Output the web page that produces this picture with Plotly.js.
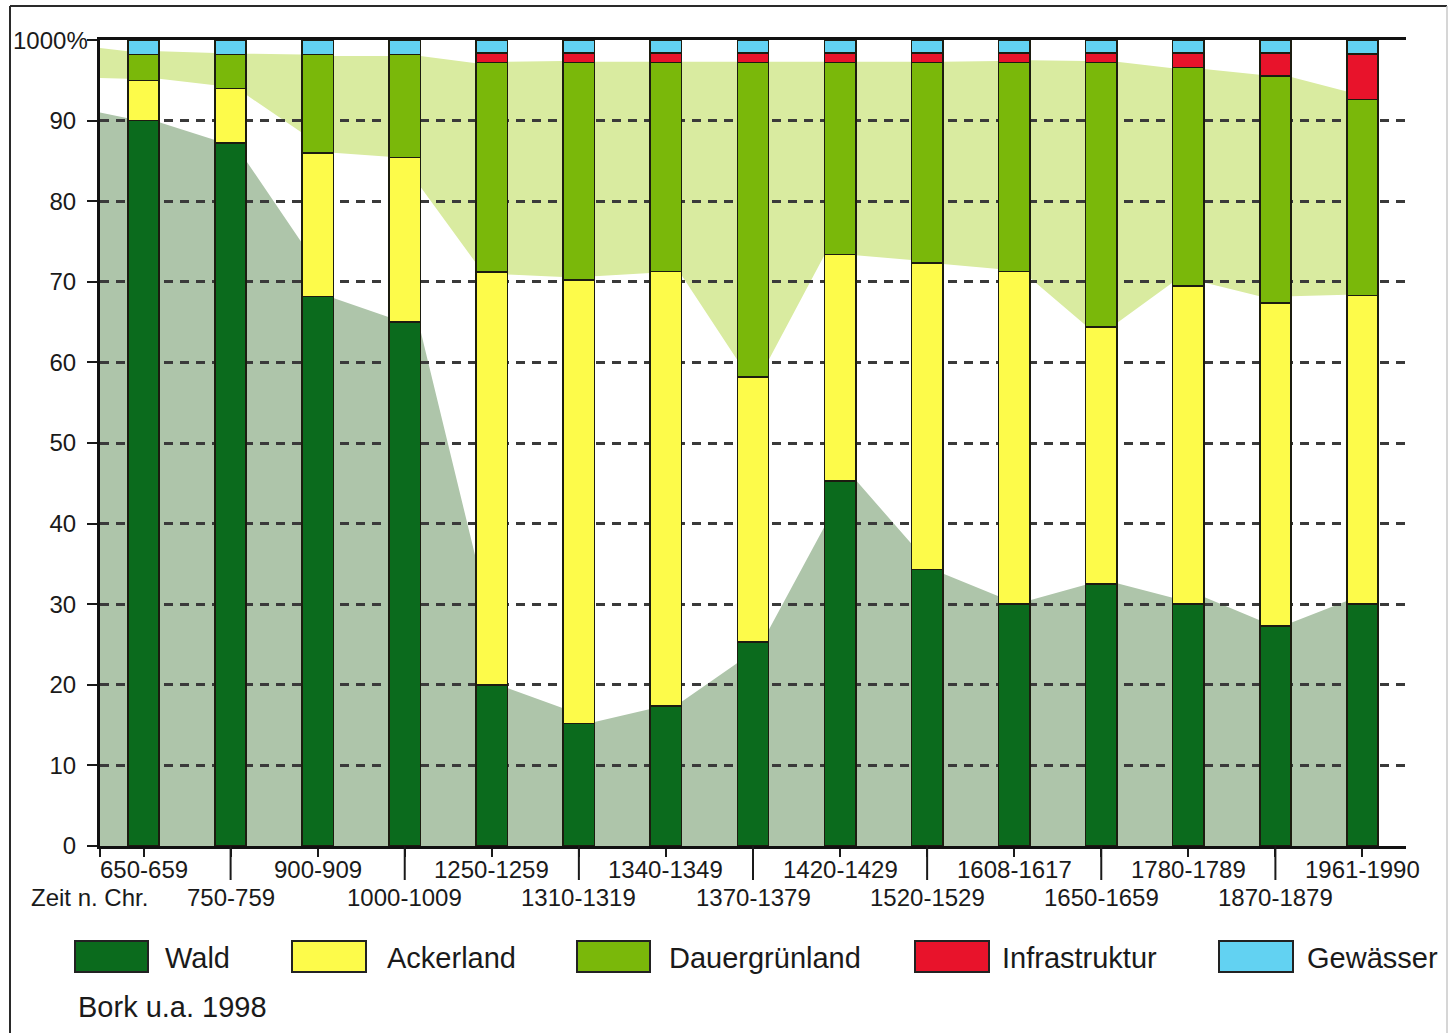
<!DOCTYPE html>
<html>
<head>
<meta charset="utf-8">
<script src="https://cdn.plot.ly/plotly-3.0.1.min.js"></script>
<style>
  html, body { margin: 0; padding: 0; background: #ffffff; }
  #chart { width: 1450px; height: 1033px; }
</style>
</head>
<body>
<div id="chart"></div>
<script>
// ---------- data ----------
const categories = ['650-659','750-759','900-909','1000-1009','1250-1259','1310-1319','1340-1349','1370-1379','1420-1429','1520-1529','1608-1617','1650-1659','1780-1789','1870-1879','1961-1990'];
const seriesNames = ['Wald','Ackerland','Dauergrünland','Infrastruktur','Gewässer'];
const wald           = [90.0, 87.2, 68.2, 65.0, 20.0, 15.2, 17.4, 25.3, 45.3, 34.3, 30.0, 32.5, 30.0, 27.3, 30.0];
const ackerland      = [5.0, 6.8, 17.8, 20.4, 51.2, 55.0, 53.9, 32.9, 28.1, 38.0, 41.3, 31.9, 39.5, 40.1, 38.3];
const dauergruenland = [3.2, 4.2, 12.2, 12.8, 26.0, 27.0, 25.9, 39.0, 23.8, 24.9, 25.9, 32.8, 27.1, 28.1, 24.3];
const infrastruktur  = [0, 0, 0, 0, 1.2, 1.2, 1.2, 1.2, 1.2, 1.2, 1.2, 1.2, 1.8, 2.9, 5.7];
const gewaesser      = [1.8, 1.8, 1.8, 1.8, 1.6, 1.6, 1.6, 1.6, 1.6, 1.6, 1.6, 1.6, 1.6, 1.6, 1.7];

// background bands (values at left / right edge of each bar)
const waldBandStart    = 91;
const waldBandLeft     = [90.3, 87.6, 74.8, 65.6, 35.5, 17.1, 17.0, 22.7, 39.6, 37.5, 31.0, 32.4, 30.8, 28.0, 30.4];
const waldBandRight    = [89.8, 85.0, 68.0, 64.0, 19.6, 15.4, 17.9, 26.8, 45.4, 33.8, 30.5, 32.6, 30.9, 27.7, 30.0];
const gruenTopStart    = 99.0;
const gruenBottomStart = 95.3;
const gruenTopLeft     = [98.6, 98.4, 98.2, 98.0, 97.1, 97.4, 97.3, 97.3, 97.3, 97.3, 97.4, 97.4, 96.5, 95.7, 93.6];
const gruenTopRight    = [98.6, 98.3, 98.0, 98.0, 97.3, 97.3, 97.3, 97.3, 97.3, 97.3, 97.5, 97.3, 96.4, 95.4, 92.6];
const gruenBottomLeft  = [95.2, 94.4, 88.5, 85.5, 72.3, 70.6, 71.1, 60.3, 73.3, 72.7, 71.6, 64.6, 69.9, 68.2, 68.4];
const gruenBottomRight = [95.2, 93.2, 86.0, 81.8, 70.9, 70.7, 70.8, 60.3, 73.3, 72.2, 70.5, 64.9, 69.9, 68.2, 68.3];

const yTickVals  = [0,10,20,30,40,50,60,70,80,90,100];
const yTickText  = ['0','10','20','30','40','50','60','70','80','90',''];
const yTopLabel  = '1000%';
const xAxisNote  = 'Zeit n. Chr.';
const sourceNote = 'Bork u.a. 1998';

// ---------- styles ----------
const colors = ['#0b6b1d', '#fdfb4a', '#7ab80a', '#e8132b', '#62d2f2'];
const bandDark  = '#aec5aa';
const bandLight = '#d9eba0';
const FONT = 'Liberation Sans, Arial, Helvetica, sans-serif';
const TXT = '#1a1a1a';
const BARW = 0.36;
const HW = BARW / 2;

// plot area in pixels
const L = 100, R = 1406, T = 40, B = 846;
const W = 1450, H = 1033;
const px = v => (v - L) / (R - L);          // pixel x -> paper
const py = v => (B - v) / (B - T);          // pixel y -> paper

const xs = categories.map((c, i) => i);
const values = [wald, ackerland, dauergruenland, infrastruktur, gewaesser];

const traces = values.map((vals, k) => ({
  type: 'bar',
  name: seriesNames[k],
  x: xs,
  y: vals,
  width: BARW,
  customdata: categories,
  textposition: 'none',
  marker: { color: colors[k], line: { color: '#1c1c10', width: 1.6 } },
  hovertemplate: '%{customdata}: %{y}%<extra>' + seriesNames[k] + '</extra>',
  showlegend: false
}));

// ---------- background band shapes (data coordinates) ----------
function waldPath() {
  let d = 'M -0.5,0 L -0.5,' + waldBandStart;
  xs.forEach(i => {
    d += ' L ' + (i - HW) + ',' + waldBandLeft[i];
    d += ' L ' + (i === xs.length - 1 ? i : i + HW) + ',' + waldBandRight[i];
  });
  d += ' L ' + (xs.length - 1) + ',0 Z';
  return d;
}
function gruenPath() {
  let d = 'M -0.5,' + gruenBottomStart + ' L -0.5,' + gruenTopStart;
  xs.forEach(i => {
    d += ' L ' + (i - HW) + ',' + gruenTopLeft[i];
    d += ' L ' + (i === xs.length - 1 ? i : i + HW) + ',' + gruenTopRight[i];
  });
  for (let j = xs.length - 1; j >= 0; j--) {
    d += ' L ' + (j === xs.length - 1 ? j : j + HW) + ',' + gruenBottomRight[j];
    d += ' L ' + (j - HW) + ',' + gruenBottomLeft[j];
  }
  d += ' Z';
  return d;
}

const shapes = [
  { type: 'path', xref: 'x', yref: 'y', layer: 'below', path: waldPath(), fillcolor: bandDark, line: { width: 0 } },
  { type: 'path', xref: 'x', yref: 'y', layer: 'below', path: gruenPath(), fillcolor: bandLight, line: { width: 0 } }
];

// long tick marks at odd categories
xs.filter(i => i % 2 === 1).forEach(i => {
  shapes.push({ type: 'line', xref: 'x', yref: 'paper', x0: i, x1: i, y0: 0, y1: py(880),
                line: { color: '#1a1a1a', width: 2 }, layer: 'above' });
});

// outer frame of the figure
shapes.push({ type: 'line', xref: 'paper', yref: 'paper', x0: px(10), x1: px(10), y0: py(6), y1: py(1040), line: { color: '#2a2a2a', width: 2 } });
shapes.push({ type: 'line', xref: 'paper', yref: 'paper', x0: px(10), x1: px(1447), y0: py(6), y1: py(6), line: { color: '#2a2a2a', width: 2 } });
shapes.push({ type: 'line', xref: 'paper', yref: 'paper', x0: px(1447), x1: px(1447), y0: py(6), y1: py(1040), line: { color: '#c8c8c8', width: 1.5 } });

// ---------- annotations: category labels in two rows ----------
const annotations = [];
categories.forEach((c, i) => {
  annotations.push({
    xref: 'x', yref: 'paper', x: i, y: py(i % 2 === 0 ? 869 : 897),
    text: c, showarrow: false, xanchor: 'center', yanchor: 'middle',
    font: { family: FONT, size: 24, color: TXT }
  });
});
annotations.push({
  xref: 'paper', yref: 'paper', x: px(29), y: py(897), text: xAxisNote, showarrow: false,
  xanchor: 'left', yanchor: 'middle', font: { family: FONT, size: 24, color: TXT }
});
// top y label (sits closer to the axis than the others)
annotations.push({
  xref: 'paper', yref: 'y', x: px(90), y: 100, text: yTopLabel, showarrow: false,
  xanchor: 'right', yanchor: 'middle', font: { family: FONT, size: 24, color: TXT }
});

// ---------- custom legend ----------
const legendBoxes = [[75, 148], [292, 366], [577, 650], [915, 989], [1219, 1293]];
const legendTextX = [163, 385, 667, 1000, 1305];
seriesNames.forEach((n, k) => {
  shapes.push({
    type: 'rect', xref: 'paper', yref: 'paper',
    x0: px(legendBoxes[k][0]), x1: px(legendBoxes[k][1]), y0: py(972), y1: py(941),
    fillcolor: colors[k], line: { color: '#222222', width: 2 }
  });
  annotations.push({
    xref: 'paper', yref: 'paper', x: px(legendTextX[k]), y: py(958), text: n, showarrow: false,
    xanchor: 'left', yanchor: 'middle', font: { family: FONT, size: 29, color: TXT }
  });
});
annotations.push({
  xref: 'paper', yref: 'paper', x: px(76), y: py(1007), text: sourceNote, showarrow: false,
  xanchor: 'left', yanchor: 'middle', font: { family: FONT, size: 29, color: TXT }
});

const layout = {
  width: W, height: H,
  margin: { l: L, r: W - R, t: T, b: H - B, pad: 0 },
  paper_bgcolor: '#ffffff',
  plot_bgcolor: 'rgba(0,0,0,0)',
  barmode: 'stack',
  showlegend: false,
  font: { family: FONT, size: 24, color: TXT },
  xaxis: {
    type: 'linear', range: [-0.5, 14.5], fixedrange: true,
    showgrid: false, zeroline: false,
    showline: true, linecolor: '#111111', linewidth: 3, mirror: true,
    ticks: 'outside', ticklen: 8, tickwidth: 2, tickcolor: '#1a1a1a',
    tickvals: [-0.5].concat(xs), showticklabels: false
  },
  yaxis: {
    range: [0, 100], fixedrange: true,
    showline: true, linecolor: '#111111', linewidth: 3,
    zeroline: false,
    showgrid: true, gridcolor: '#3a3a3a', gridwidth: 3, griddash: '9px,7px',
    ticks: 'outside', ticklen: 10, tickwidth: 2, tickcolor: '#1a1a1a',
    tickvals: yTickVals, ticktext: yTickText, ticklabelstandoff: 6,
    tickfont: { family: FONT, size: 24, color: TXT }
  },
  shapes: shapes,
  annotations: annotations
};

Plotly.newPlot('chart', traces, layout, { displayModeBar: false, staticPlot: true });
</script>
</body>
</html>
